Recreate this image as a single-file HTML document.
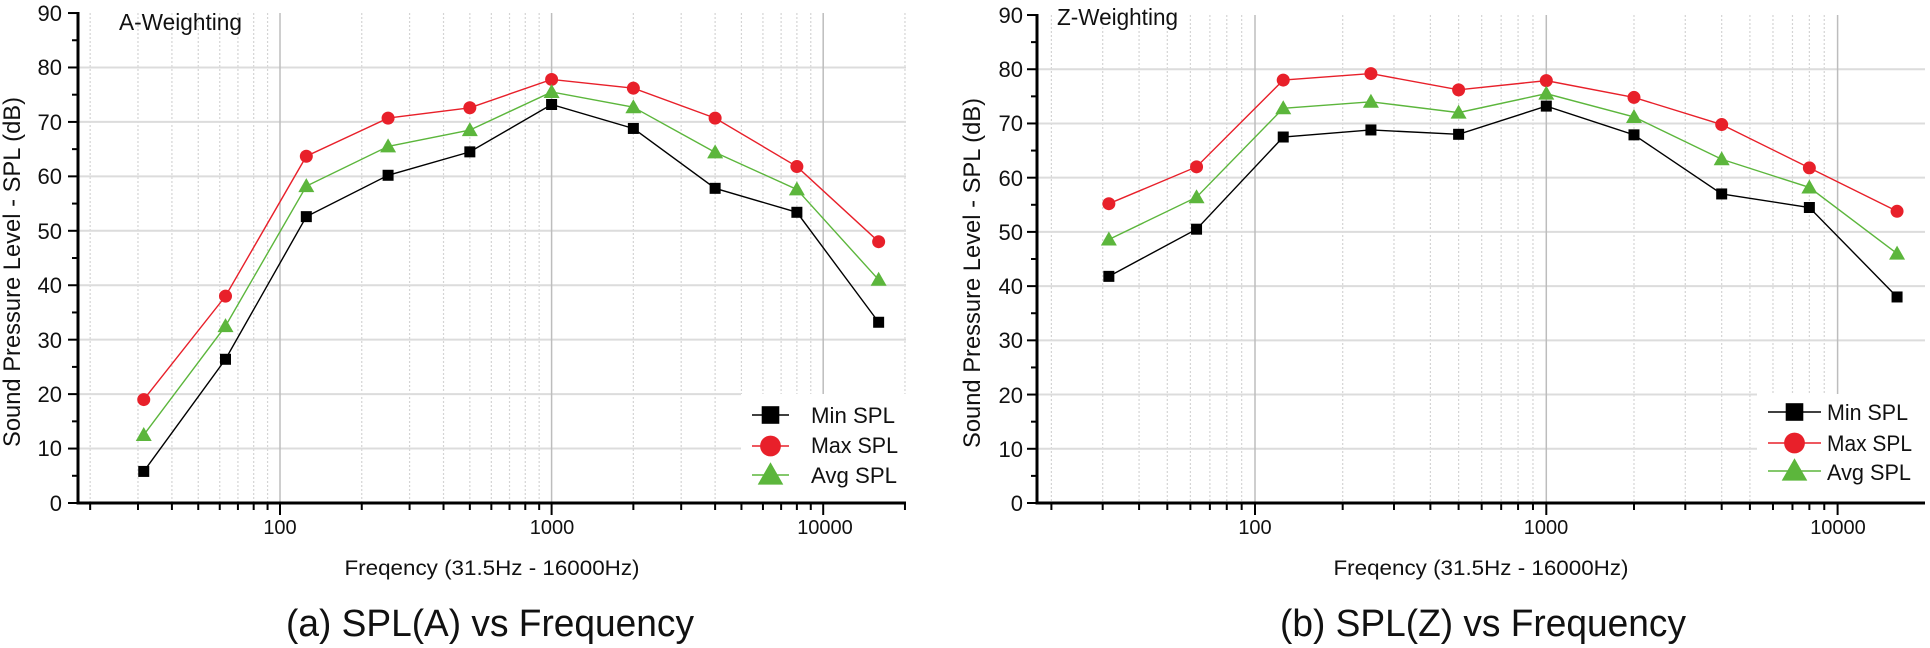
<!DOCTYPE html>
<html><head><meta charset="utf-8"><style>
html,body{margin:0;padding:0;background:#fff;width:1930px;height:648px;overflow:hidden}
svg{display:block}
text{font-family:"Liberation Sans",sans-serif;fill:#111}
</style></head><body>
<svg id="s" width="1930" height="648" viewBox="0 0 1930 648" xmlns="http://www.w3.org/2000/svg">
<g id="g"></g>
<!-- Left texts -->
<text x="119" y="30" font-size="23" textLength="123" lengthAdjust="spacingAndGlyphs">A-Weighting</text>
<g font-size="22" text-anchor="end">
<text x="62" y="21">90</text><text x="62" y="75">80</text><text x="62" y="130">70</text><text x="62" y="184">60</text><text x="62" y="239">50</text><text x="62" y="293">40</text><text x="62" y="348">30</text><text x="62" y="402">20</text><text x="62" y="456">10</text><text x="62" y="511">0</text>
</g>
<text transform="translate(20,272) rotate(-90)" font-size="24" text-anchor="middle" textLength="350" lengthAdjust="spacingAndGlyphs">Sound Pressure Level - SPL (dB)</text>
<g font-size="20" text-anchor="middle">
<text x="280" y="534">100</text><text x="552" y="534">1000</text><text x="825" y="534">10000</text>
</g>
<text x="492" y="575" font-size="21" text-anchor="middle" textLength="295" lengthAdjust="spacingAndGlyphs">Freqency (31.5Hz - 16000Hz)</text>
<text x="490" y="636" font-size="38" text-anchor="middle" textLength="408" lengthAdjust="spacingAndGlyphs">(a) SPL(A) vs Frequency</text>
<g font-size="22">
<text x="811" y="423" textLength="84" lengthAdjust="spacingAndGlyphs">Min SPL</text><text x="811" y="453" textLength="87" lengthAdjust="spacingAndGlyphs">Max SPL</text><text x="811" y="483" textLength="86" lengthAdjust="spacingAndGlyphs">Avg SPL</text>
</g>
<!-- Right texts -->
<text x="1057" y="25" font-size="23" textLength="121" lengthAdjust="spacingAndGlyphs">Z-Weighting</text>
<g font-size="22" text-anchor="end">
<text x="1023" y="23">90</text><text x="1023" y="77">80</text><text x="1023" y="131">70</text><text x="1023" y="186">60</text><text x="1023" y="240">50</text><text x="1023" y="294">40</text><text x="1023" y="348">30</text><text x="1023" y="403">20</text><text x="1023" y="457">10</text><text x="1023" y="511">0</text>
</g>
<text transform="translate(980,273) rotate(-90)" font-size="24" text-anchor="middle" textLength="350" lengthAdjust="spacingAndGlyphs">Sound Pressure Level - SPL (dB)</text>
<g font-size="20" text-anchor="middle">
<text x="1255" y="534">100</text><text x="1546" y="534">1000</text><text x="1838" y="534">10000</text>
</g>
<text x="1481" y="575" font-size="21" text-anchor="middle" textLength="295" lengthAdjust="spacingAndGlyphs">Freqency (31.5Hz - 16000Hz)</text>
<text x="1483" y="636" font-size="38" text-anchor="middle" textLength="406" lengthAdjust="spacingAndGlyphs">(b) SPL(Z) vs Frequency</text>
<g font-size="22">
<text x="1827" y="420" textLength="81" lengthAdjust="spacingAndGlyphs">Min SPL</text><text x="1827" y="451" textLength="85" lengthAdjust="spacingAndGlyphs">Max SPL</text><text x="1827" y="480" textLength="84" lengthAdjust="spacingAndGlyphs">Avg SPL</text>
</g>
</svg>
<script>
(function(){
var g=document.getElementById('g'),NS='http://www.w3.org/2000/svg';
function el(t,a){var e=document.createElementNS(NS,t);for(var k in a)e.setAttribute(k,a[k]);g.appendChild(e);return e;}
var RED='#e8202a',GRN='#5cb63c',BLK='#000';
function panel(P){
 var X=function(f){return P.x100+(Math.log10(f)-2)*P.dec;};
 var Y=function(v){return P.y0-v*P.k;};
 [10,100,1000,10000].forEach(function(d){for(var m=2;m<=9;m++){var f=d*m,x=X(f);if(x<=P.ax+1||x>=P.xr-1)continue;
  el('line',{x1:x,x2:x,y1:Y(90),y2:(x>P.lx?P.ly:P.y0),stroke:'#d4d4d4','stroke-width':1.2,'stroke-dasharray':'2,2'});}});
 for(var v=10;v<=80;v+=10){var y=Y(v);el('line',{x1:P.ax,x2:(y>P.ly?P.lx:P.xr),y1:y,y2:y,stroke:'#dcdcdc','stroke-width':2});}
 [100,1000,10000].forEach(function(f){var x=X(f);el('line',{x1:x,x2:x,y1:Y(90),y2:(x>P.lx?P.ly:P.y0),stroke:'#bdbdbd','stroke-width':1.5});});
 el('line',{x1:P.ax,x2:P.ax,y1:Y(90)-1,y2:P.y0+1.5,stroke:'#000','stroke-width':3});
 el('line',{x1:P.ax-1.5,x2:P.xr,y1:P.y0,y2:P.y0,stroke:'#000','stroke-width':3});
 for(var v=0;v<=90;v+=5){var y=Y(v);el('line',{x1:P.ax-(v%10?6:10),x2:P.ax,y1:y,y2:y,stroke:'#000','stroke-width':2});}
 [10,100,1000,10000].forEach(function(d){for(var m=1;m<=9;m++){var f=d*m,x=X(f);if(x<=P.ax+1||x>P.xr)continue;
  el('line',{x1:x,x2:x,y1:P.y0,y2:P.y0+(m==1?12:7),stroke:'#000','stroke-width':2});}});
 var fr=[31.5,63,125,250,500,1000,2000,4000,8000,16000];
 var S=[[BLK,P.min,'s'],[RED,P.max,'c'],[GRN,P.avg,'t']];
 S.forEach(function(s){var pts=fr.map(function(f,i){return X(f)+','+Y(s[1][i]);}).join(' ');
  el('polyline',{points:pts,fill:'none',stroke:s[0],'stroke-width':1.4});});
 function mk(t,c,x,y,sz){
  if(t=='s')el('rect',{x:x-5.5*sz,y:y-5.5*sz,width:11*sz,height:11*sz,fill:c});
  else if(t=='c')el('circle',{cx:x,cy:y,r:6.5*sz,fill:c});
  else el('polygon',{points:(x)+','+(y-8*sz)+' '+(x-8*sz)+','+(y+6*sz)+' '+(x+8*sz)+','+(y+6*sz),fill:c});
 }
 S.forEach(function(s){fr.forEach(function(f,i){mk(s[2],s[0],X(f),Y(s[1][i]),1);});});
 S.forEach(function(s,i){var y=P.leg[i];el('line',{x1:P.l1,x2:P.l2,y1:y,y2:y,stroke:s[0],'stroke-width':1.4});mk(s[2],s[0],(P.l1+P.l2)/2,y,1.6);});
}
panel({x100:280,dec:271.6,ax:78,xr:906,y0:503,k:5.444,lx:741,ly:394,
 min:[5.8,26.4,52.6,60.2,64.5,73.2,68.8,57.8,53.4,33.2],
 max:[19,38,63.7,70.7,72.6,77.8,76.2,70.7,61.8,48],
 avg:[12.5,32.5,58.2,65.5,68.5,75.5,72.7,64.4,57.6,41],
 leg:[415,446,475],l1:752,l2:789});
panel({x100:1255,dec:291.3,ax:1037,xr:1925,y0:503,k:5.422,lx:1757,ly:394,
 min:[41.8,50.5,67.5,68.8,68,73.2,67.9,57,54.5,38],
 max:[55.2,62,78,79.2,76.2,77.9,74.8,69.8,61.8,53.8],
 avg:[48.6,56.4,72.8,74,72,75.5,71.2,63.4,58.2,46],
 leg:[412,443,471],l1:1768,l2:1821});
})();
</script>
</body></html>
